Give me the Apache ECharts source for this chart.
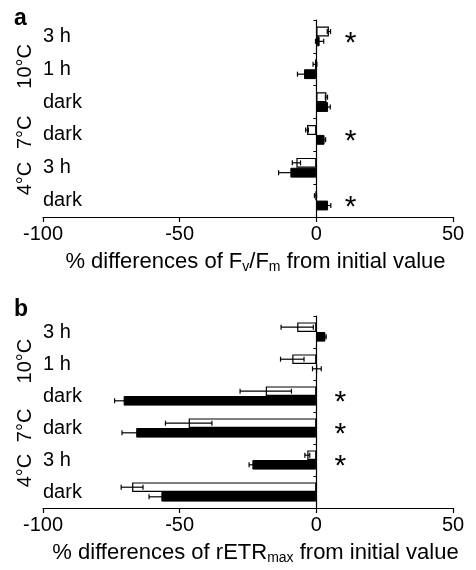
<!DOCTYPE html>
<html><head><meta charset="utf-8">
<script src="https://cdn.jsdelivr.net/npm/echarts@6/dist/echarts.min.js"></script>
<style>html,body{margin:0;padding:0;background:#fff}#c{width:476px;height:570px}</style>
</head><body><div id="c"></div>
<script>
// categories (top to bottom)
const categories = ['3 h', '1 h', 'dark', 'dark', '3 h', 'dark'];
const groupLabels = ['10°C', '7°C', '4°C'];
const xTicks = [-100, -50, 0, 50];

// panel a: % differences of Fv/Fm
const aWhite = [4.6, -0.5, 3.7, -3.4, -7.3, -0.3];
const aWhiteErr = [0.6, 0.7, 0.4, 0.5, 1.5, 0.4];
const aBlack = [1.2, -4.5, 4.3, 3.0, -9.5, 4.3];
const aBlackErr = [1.5, 2.4, 0.8, 0.4, 4.3, 1.0];
const aSig = [true, false, false, true, false, true];

// panel b: % differences of rETRmax
const bWhite = [-7.0, -8.8, -18.5, -46.7, -3.3, -67.4];
const bWhiteErr = [5.9, 4.3, 9.4, 8.5, 0.9, 4.0];
const bBlack = [3.3, 0.2, -70.5, -65.9, -23.4, -56.7];
const bBlackErr = [0.3, 1.6, 3.3, 5.2, 1.2, 4.5];
const bSig = [false, false, true, true, true, false];

const chart = echarts.init(document.getElementById('c'), null, {renderer: 'canvas'});
const FONT = 'Liberation Sans, Arial, sans-serif';

function errRender(sign) {
  return function (params, api) {
    const val = api.value(0), cat = api.value(1), err = api.value(2);
    const band = api.size([0, 1])[1];
    const y = api.coord([val, cat])[1] + sign * band * 0.15;
    const lo = api.coord([val - err, cat])[0];
    const hi = api.coord([val + err, cat])[0];
    const cap = 2.5;
    const st = {stroke: '#000', lineWidth: 1.2};
    return {type: 'group', children: [
      {type: 'line', shape: {x1: lo, y1: y, x2: hi, y2: y}, style: st},
      {type: 'line', shape: {x1: lo, y1: y - cap, x2: lo, y2: y + cap}, style: st},
      {type: 'line', shape: {x1: hi, y1: y - cap, x2: hi, y2: y + cap}, style: st}
    ]};
  };
}
function starRender(params, api) {
  const c = api.coord([api.value(0), api.value(1)]);
  return {type: 'text', x: c[0], y: c[1] + 7,
    style: {text: '*', font: '30px ' + FONT, fill: '#000', align: 'center', verticalAlign: 'middle'}};
}

const panels = [
  {top: 20, height: 197, white: aWhite, wErr: aWhiteErr, black: aBlack, bErr: aBlackErr, sig: aSig, starX: 12.5,
   name: '% differences of F{s|v}/F{s|m} from initial value', letter: 'a', letterTop: 7},
  {top: 316, height: 192, white: bWhite, wErr: bWhiteErr, black: bBlack, bErr: bBlackErr, sig: bSig, starX: 8.8,
   name: '% differences of rETR{s|max} from initial value', letter: 'b', letterTop: 298}
];

const grid = [], xAxis = [], yAxis = [], series = [], graphic = [];
panels.forEach((p, i) => {
  grid.push({left: 43, right: 23, top: p.top, height: p.height});
  xAxis.push({type: 'value', gridIndex: i, min: -100, max: 50, interval: 50,
    splitLine: {show: false},
    axisLine: {show: true, lineStyle: {color: '#000', width: 1.2}},
    axisTick: {show: true, length: 5, lineStyle: {color: '#000', width: 1.2}},
    axisLabel: {color: '#000', fontFamily: FONT, fontSize: 20, margin: 7},
    name: p.name, nameLocation: 'middle', nameGap: 32,
    nameTextStyle: {color: '#000', fontFamily: FONT, fontSize: 22, padding: [0, 0, 0, 15],
      rich: {s: {fontSize: 14, fontFamily: FONT, color: '#000', padding: [11, 0, 0, 0]}}}
  });
  yAxis.push({type: 'category', gridIndex: i, data: categories, inverse: true,
    axisLine: {onZero: true, lineStyle: {color: '#000', width: 1.2}},
    axisTick: {show: true, length: 3, lineStyle: {color: '#000'}},
    axisLabel: {show: false}, splitLine: {show: false}});
  yAxis.push({type: 'category', gridIndex: i, data: categories, inverse: true, position: 'left',
    axisLine: {show: false, onZero: false}, axisTick: {show: false},
    axisLabel: {show: true, color: '#000', fontFamily: FONT, fontSize: 20, align: 'left', margin: 0},
    splitLine: {show: false}});
  const yi = i * 2;
  series.push({type: 'bar', xAxisIndex: i, yAxisIndex: yi, data: p.white, barWidth: '30%', barGap: '0%',
    itemStyle: {color: '#fff', borderColor: '#000', borderWidth: 1.2}, z: 2});
  series.push({type: 'bar', xAxisIndex: i, yAxisIndex: yi, data: p.black, barWidth: '30%', barGap: '0%',
    itemStyle: {color: '#000', borderColor: '#000', borderWidth: 1}, z: 2});
  series.push({type: 'custom', xAxisIndex: i, yAxisIndex: yi, renderItem: errRender(-1), z: 3,
    encode: {x: 0, y: 1}, data: p.white.map((v, k) => [v, k, p.wErr[k]])});
  series.push({type: 'custom', xAxisIndex: i, yAxisIndex: yi, renderItem: errRender(1), z: 3,
    encode: {x: 0, y: 1}, data: p.black.map((v, k) => [v, k, p.bErr[k]])});
  series.push({type: 'custom', xAxisIndex: i, yAxisIndex: yi, renderItem: starRender, z: 4,
    encode: {x: 0, y: 1}, data: p.sig.map((s, k) => s ? [p.starX, k] : null).filter(d => d)});
  // panel letter
  graphic.push({type: 'text', left: 14, top: p.letterTop,
    style: {text: p.letter, font: 'bold 23px ' + FONT, fill: '#000'}});
  // rotated group labels
  const fr = [0.235, 0.57, 0.805];
  groupLabels.forEach((g, k) => {
    graphic.push({type: 'text', x: 25, y: p.top + p.height * fr[k], rotation: Math.PI / 2,
      style: {text: g, font: '20px ' + FONT, fill: '#000', align: 'center', verticalAlign: 'middle'}});
  });
});

chart.setOption({animation: false, grid, xAxis, yAxis, series, graphic});
</script>
</body></html>
